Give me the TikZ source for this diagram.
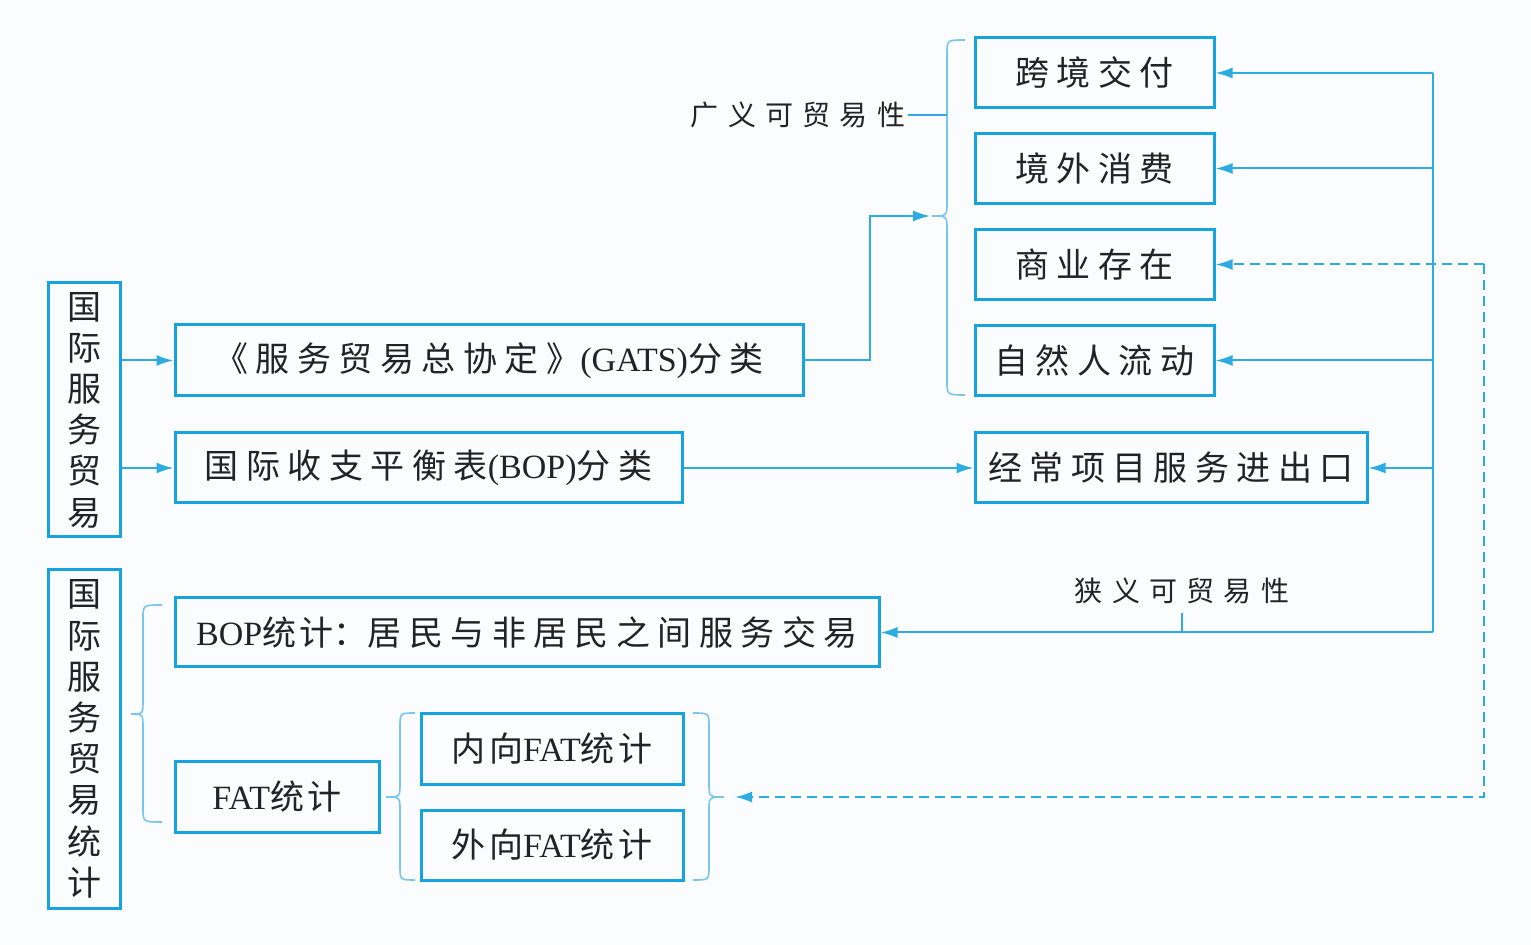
\documentclass[tikz,border=0pt]{standalone}
\usepackage{fontspec}
\setmainfont{Liberation Serif}
\newfontfamily\cj[LetterSpace=22]{Noto Sans CJK SC}
\newfontfamily\cjm[LetterSpace=10]{Noto Sans CJK SC}
\newfontfamily\cjt{Noto Sans CJK SC}
\newfontfamily\cjl[LetterSpace=33]{Noto Sans CJK SC}
\usetikzlibrary{arrows.meta}
\definecolor{boxblue}{RGB}{22,163,223}
\definecolor{lineblue}{RGB}{45,172,226}
\definecolor{braceblue}{RGB}{120,198,236}
\definecolor{bgcol}{RGB}{251,252,253}
\definecolor{txt}{RGB}{35,35,35}
\newcommand{\mybrace}[6]{\draw[bracest] (#1,#4) .. controls (#2,#4) .. (#2,{#4+14}) -- (#2,{#5-14}) .. controls (#2,#5) .. (#3,#5) .. controls (#2,#5) .. (#2,{#5+14}) -- (#2,{#6-14}) .. controls (#2,#6) .. (#1,#6);}
\begin{document}
\begin{tikzpicture}[x=0.5pt,y=-0.5pt,
  box/.style={draw=boxblue, line width=1.5pt, inner sep=0pt, text=txt, align=center,
    font=\fontsize{17}{20.5}\selectfont},
  vbox/.style={box, font=\fontsize{17}{20.6}\selectfont\cjt},
  lab/.style={inner sep=1pt, text=txt, font=\fontsize{14}{16}\selectfont\cjl},
  line/.style={draw=lineblue, line width=1pt},
  conn/.style={line, -{Latex[length=8.5pt,width=5.5pt]}},
  dconn/.style={conn, dash pattern=on 5pt off 3pt},
  bracest/.style={draw=braceblue, line width=0.8pt}]
\fill[bgcol] (0,0) rectangle (1531,945);
\useasboundingbox (0,0) rectangle (1531,945);

% left vertical boxes
\node[vbox, minimum width=36pt, minimum height=127pt] (L1) at (84,410) {国\\际\\服\\务\\贸\\易};
\node[vbox, minimum width=36pt, minimum height=169pt] (L2) at (84,739) {国\\际\\服\\务\\贸\\易\\统\\计};

% classification boxes
\node[box, minimum width=314pt, minimum height=35.5pt] (GATS) at (489,360.5) {{\cj 《服务贸易总协定》}(GATS){\cj 分类}};
\node[box, minimum width=253.5pt, minimum height=35pt] (BOPc) at (428.5,468) {{\cj 国际收支平衡表}(BOP){\cj 分类}};

% GATS modes
\node[box, minimum width=119.5pt, minimum height=35pt] (K1) at (1094.5,73) {\cj 跨境交付};
\node[box, minimum width=119.5pt, minimum height=35pt] (K2) at (1094.5,168.5) {\cj 境外消费};
\node[box, minimum width=119.5pt, minimum height=35pt] (K3) at (1094.5,264.5) {\cj 商业存在};
\node[box, minimum width=119.5pt, minimum height=35pt] (K4) at (1094.5,360.5) {\cj 自然人流动};
\node[box, minimum width=196pt, minimum height=35pt] (JC) at (1171,468) {\cj 经常项目服务进出口};

% statistics boxes
\node[box, minimum width=352pt, minimum height=34.5pt] (BS) at (527,632.5) {BOP{\cjm 统计}{\cjt ：}{\cj 居民与非居民之间服务交易}};
\node[box, minimum width=102pt, minimum height=35pt] (FAT) at (277,797) {FAT{\cjm 统计}};
\node[box, minimum width=131pt, minimum height=35pt] (IN) at (552,749) {{\cjm 内向}FAT{\cjm 统计}};
\node[box, minimum width=131pt, minimum height=35pt] (OUT) at (552,845) {{\cjm 外向}FAT{\cjm 统计}};

% labels
\node[lab] (wide) at (798,115) {广义可贸易性};
\node[lab] (nar) at (1182,591) {狭义可贸易性};

% braces
\mybrace{965}{947}{932}{40}{216}{395}
\mybrace{162}{143}{131}{605}{714}{822}
\mybrace{415}{400}{386}{713}{797}{880}
\mybrace{693}{709}{724}{713}{797}{880}

% coordinates
\coordinate (b1tip) at (930,216);
\coordinate (b4tip) at (735,797);
\coordinate (trunkTop) at (1433,73);
\coordinate (trunkBot) at (1433,632.5);
\coordinate (dTop) at (1484,264.5);

% connectors
\draw[conn] (L1.east |- GATS.west) -- (GATS.west);
\draw[conn] (L1.east |- BOPc.west) -- (BOPc.west);
\draw[conn] (GATS.east) -- ++(65,0) |- (b1tip);
\draw[conn] (BOPc.east) -- (JC.west);
\draw[line] (wide.east) -- (947,115);

\draw[line] (trunkTop) -- (trunkBot);
\draw[conn] (trunkTop) -- (K1.east);
\draw[conn] (K2.east -| trunkTop) -- (K2.east);
\draw[conn] (K4.east -| trunkTop) -- (K4.east);
\draw[conn] (JC.east -| trunkTop) -- (JC.east);
\draw[conn] (trunkBot) -- (BS.east);
\draw[line] (nar.south |- trunkBot) -- ++(0,-19);

\draw[dconn] (dTop) -- (K3.east);
\draw[dconn] (dTop) |- (b4tip);
\end{tikzpicture}
\end{document}
